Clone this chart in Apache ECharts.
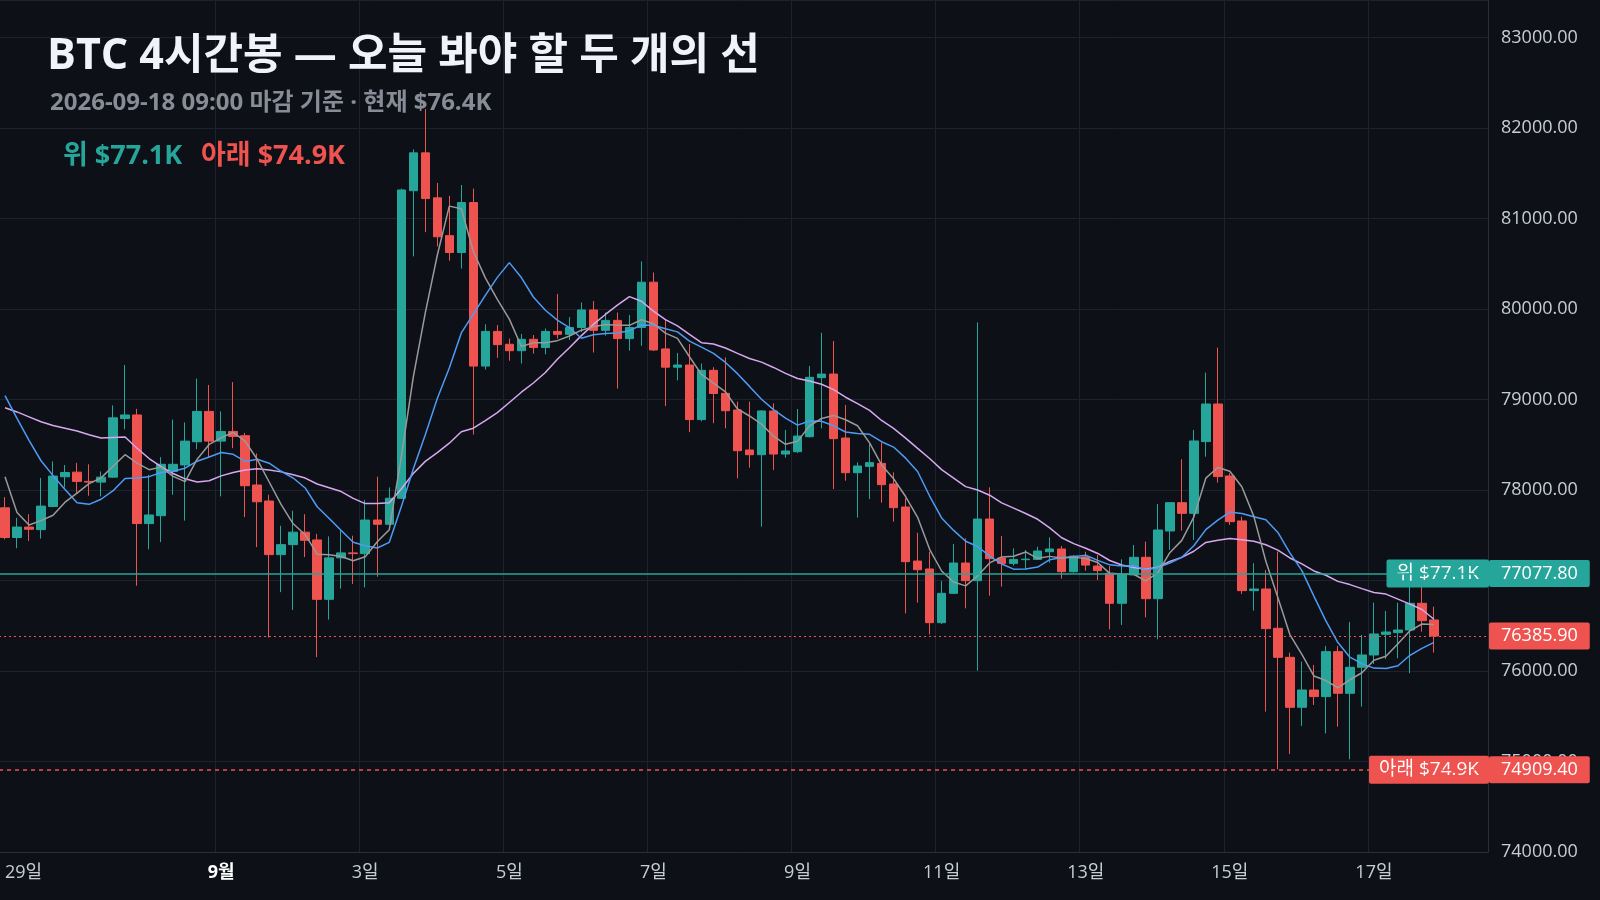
<!DOCTYPE html>
<html><head><meta charset="utf-8">
<script src="https://cdn.jsdelivr.net/npm/echarts@6/dist/echarts.min.js"></script>
<style>html,body{margin:0;padding:0;background:#0d1017}#c{width:1600px;height:900px}</style>
</head><body><div id="c"></div>
<script>
// ---- data ----
const startDate = [2026, 7, 29]; // Aug 29 2026 00:00 (month 0-based)
const emptySlots = 4;
// prior closes (warm-up for moving averages)
const warmupCloses = [78500,78650,78900,79000,78800,78700,78900,78850,78700,78740,
  80100,80000,80068,79800,79722,79565,78256,77582,77852];
// [open, close, low, high]
const ohlc = [
[77803,77475,77455,77921],[77475,77590,77357,77692],[77590,77566,77436,77732],[77562,77822,77463,78134],
[77818,78154,77810,78316],[78146,78193,78028,78276],[78197,78095,77968,78300],[78095,78087,77937,78284],
[78087,78142,77929,78205],[78142,78797,78134,78935],[78789,78829,78671,79381],[78829,77629,76942,78896],
[77629,77724,77345,78166],[77716,78284,77424,78363],[78205,78284,77948,78778],[78276,78540,77661,78746],
[78533,78868,78450,79231],[78868,78540,78363,79160],[78540,78647,77929,78868],[78647,78592,78462,79192],
[78600,78047,77700,78631],[78055,77870,77369,78403],[77878,77286,76370,77948],[77286,77396,76871,77605],
[77396,77534,76674,77771],[77534,77444,77258,77732],[77448,76792,76153,77515],[76792,77250,76568,77487],
[77250,77305,76911,77554],[77305,77297,76962,77495],[77297,77668,76923,77889],[77668,77621,77041,78146],
[77621,77909,77613,78028],[77909,81315,77901,81330],[81307,81725,80581,81764],[81725,81220,80849,82210],
[81228,80798,80691,81393],[80810,80624,80533,81251],[80624,81176,80447,81370],[81176,79369,78612,81330],
[79369,79752,79330,79831],[79752,79606,79460,79823],[79610,79539,79428,79673],[79539,79665,79397,79724],
[79665,79574,79507,79712],[79574,79752,79499,79784],[79752,79720,79673,80166],[79720,79795,79657,79910],
[79795,79989,79744,80072],[79989,79764,79519,80087],[79764,79874,79705,79961],[79874,79673,79121,79961],
[79673,79795,79539,79934],[79795,80296,79594,80525],[80296,79547,79535,80403],[79559,79357,78927,79882],
[79357,79381,79211,79515],[79381,78778,78639,79614],[78778,79322,78758,79397],[79322,79066,78738,79357],
[79068,78876,78681,79465],[78884,78434,78129,78976],[78442,78390,78246,78976],[78390,78873,77595,78880],
[78873,78397,78221,78957],[78397,78431,78357,78663],[78423,78596,78410,78895],[78589,79245,78580,79370],
[79241,79281,78681,79738],[79281,78567,78011,79646],[78574,78191,78103,78939],[78191,78265,77694,78305],
[78261,78302,77900,78515],[78294,78059,77860,78523],[78066,77805,77650,78195],[77812,77208,76637,77908],
[77215,77119,76755,77528],[77127,76534,76405,77318],[76534,76858,76519,76994],[76858,77193,76850,77403],
[77193,76998,76692,77466],[76998,77679,76003,79852],[77679,77241,76832,78029],[77248,77189,76932,77491],
[77189,77233,77164,77355],[77230,77236,77124,77337],[77233,77326,77226,77374],[77318,77348,77197,77477],
[77348,77097,77020,77381],[77097,77270,77086,77281],[77260,77170,77108,77318],[77160,77109,77006,77282],
[77080,76748,76461,77160],[76748,77061,76509,77234],[77061,77256,77060,77393],[77256,76799,76593,77429],
[76799,77558,76350,77845],[77547,77860,77337,77865],[77860,77742,77551,78339],[77742,78542,77448,78663],
[78535,78950,78368,79297],[78950,78148,78081,79573],[78155,77650,77614,78185],[77658,76888,76851,77706],
[76888,76906,76667,77190],[76906,76468,75551,77116],[76472,76151,74914,77319],[76151,75599,75083,76203],
[75599,75790,75393,76103],[75790,75717,75625,76067],[75717,76214,75311,76277],[76214,75754,75385,76277],
[75754,76041,75024,76542],[76041,76177,75606,76398],[76177,76409,76078,76755],[76405,76431,76133,76663],
[76424,76453,76140,76755],[76453,76748,75975,77024],[76748,76556,76435,76932],[76564,76385.9,76203,76711]
];
const upperLevel = 77077.8;
const lowerLevel = 74909.4;
const currentPrice = 76385.9;
const maPeriods = [5, 10, 20];
const yTicks = {min: 74000, max: 83414, interval: 1000};

// ---- build ----
const cats = [], dayInfo = [];
const n = ohlc.length + emptySlots;
for (let i = 0; i < n; i++) {
  const d = new Date(startDate[0], startDate[1], startDate[2], i * 4);
  cats.push(d.getFullYear()+'-'+(d.getMonth()+1)+'-'+d.getDate()+' '+d.getHours()+':00');
  dayInfo.push({h: d.getHours(), day: d.getDate(), mon: d.getMonth()+1});
}
const showIdx = (i) => {
  const x = dayInfo[i]; if (!x || x.h !== 0) return false;
  if (x.day === 1) return true;
  if (x.day === 31 || x.day === 30) return false;
  return x.day % 2 === 1;
};
const allCloses = warmupCloses.concat(ohlc.map(r => r[1]));
const off = warmupCloses.length;
function ma(p) {
  return ohlc.map((_, i) => {
    let s = 0; for (let k = 0; k < p; k++) s += allCloses[off + i - k];
    return +(s / p).toFixed(2);
  });
}
const fmtK = v => '$' + (v/1000).toFixed(1) + 'K';
const UP = '#26a69a', DN = '#ef5350';
const font = '"Open Sans", "Noto Sans CJK KR", sans-serif';

const chart = echarts.init(document.getElementById('c'));
chart.setOption({
  backgroundColor: '#0d1017',
  animation: false,
  textStyle: {fontFamily: font},
  title: [
    {text: 'BTC 4시간봉 — 오늘 봐야 할 두 개의 선', left: 42, top: 30,
     textStyle: {color: '#f0f3f8', fontSize: 43, fontWeight: 'bold', fontFamily: font}},
    {text: '2026-09-18 09:00 마감 기준 · 현재 ' + fmtK(currentPrice), left: 45, top: 86,
     textStyle: {color: '#878c97', fontSize: 24, fontWeight: 'bold', fontFamily: font}},
    {text: '{u|위 ' + fmtK(upperLevel) + '}    {d|아래 ' + fmtK(lowerLevel) + '}', left: 58, top: 138,
     textStyle: {rich: {u: {color: UP, fontSize: 27, fontWeight: 'bold', fontFamily: font},
                        d: {color: DN, fontSize: 27, fontWeight: 'bold', fontFamily: font}}}}
  ],
  grid: {left: -1, right: 112, top: 0, bottom: 48, outerBoundsMode: 'none', containLabel: false},
  xAxis: {
    type: 'category', data: cats, boundaryGap: true,
    axisLine: {show: true, lineStyle: {color: '#2a2e39'}}, axisTick: {show: false},
    axisLabel: {interval: (i) => showIdx(i), color: '#c8ccd4', fontSize: 18, margin: 12, alignMinLabel: 'left',
      formatter: (v, i) => { const x = dayInfo[i]; return x.day === 1 ? '{b|' + x.mon + '월}' : x.day + '일'; },
      rich: {b: {color: '#ffffff', fontWeight: 'bold', fontSize: 18}}},
    splitLine: {show: true, interval: (i) => showIdx(i), lineStyle: {color: '#1e222d', width: 1}}
  },
  yAxis: {
    type: 'value', position: 'right', min: yTicks.min, max: yTicks.max, interval: yTicks.interval,
    axisLine: {show: true, lineStyle: {color: '#2a2e39'}}, axisTick: {show: false},
    axisLabel: {color: '#c8ccd4', fontSize: 18, margin: 13, showMaxLabel: false,
      formatter: v => v.toFixed(2)},
    splitLine: {lineStyle: {color: '#1e222d', width: 1}}
  },
  series: [
    {type: 'candlestick', data: ohlc, barWidth: 9,
     itemStyle: {color: UP, color0: DN, borderColor: UP, borderColor0: DN, borderWidth: 1},
     markLine: {symbol: 'none', silent: true, z: 10,
       label: {position: 'end', distance: 1, color: '#fff', fontSize: 18, padding: [5, 12, 4, 12], borderRadius: 2},
       data: [
         {yAxis: upperLevel, lineStyle: {color: UP, width: 1.6, type: 'solid'},
          label: {formatter: upperLevel.toFixed(2), backgroundColor: UP}},
         {yAxis: currentPrice, lineStyle: {color: DN, width: 1, type: [2, 3]},
          label: {formatter: currentPrice.toFixed(2), backgroundColor: DN}},
         {yAxis: lowerLevel, lineStyle: {color: DN, width: 1.6, type: [4, 4]},
          label: {formatter: lowerLevel.toFixed(2), backgroundColor: DN}}
       ]},
     markPoint: {symbol: 'rect', symbolSize: 0, silent: true,
       data: [
         {coord: [n - 1, upperLevel], label: {show: true, position: 'left', distance: 0, offset: [7, 0],
           formatter: '위 ' + fmtK(upperLevel), color: '#fff', fontSize: 19, backgroundColor: UP, padding: [5, 10, 4, 10], borderRadius: 2}},
         {coord: [n - 1, lowerLevel], label: {show: true, position: 'left', distance: 0, offset: [7, 0],
           formatter: '아래 ' + fmtK(lowerLevel), color: '#fff', fontSize: 19, backgroundColor: DN, padding: [5, 10, 4, 10], borderRadius: 2}}
       ]}},
    {type: 'line', data: ma(maPeriods[2]), showSymbol: false, smooth: false, lineStyle: {color: '#d7a8f0', width: 1.5}, z: 3},
    {type: 'line', data: ma(maPeriods[1]), showSymbol: false, lineStyle: {color: '#4c9cf5', width: 1.5}, z: 4},
    {type: 'line', data: ma(maPeriods[0]), showSymbol: false, lineStyle: {color: '#9a9a9a', width: 1.5}, z: 5}
  ]
});
</script></body></html>
